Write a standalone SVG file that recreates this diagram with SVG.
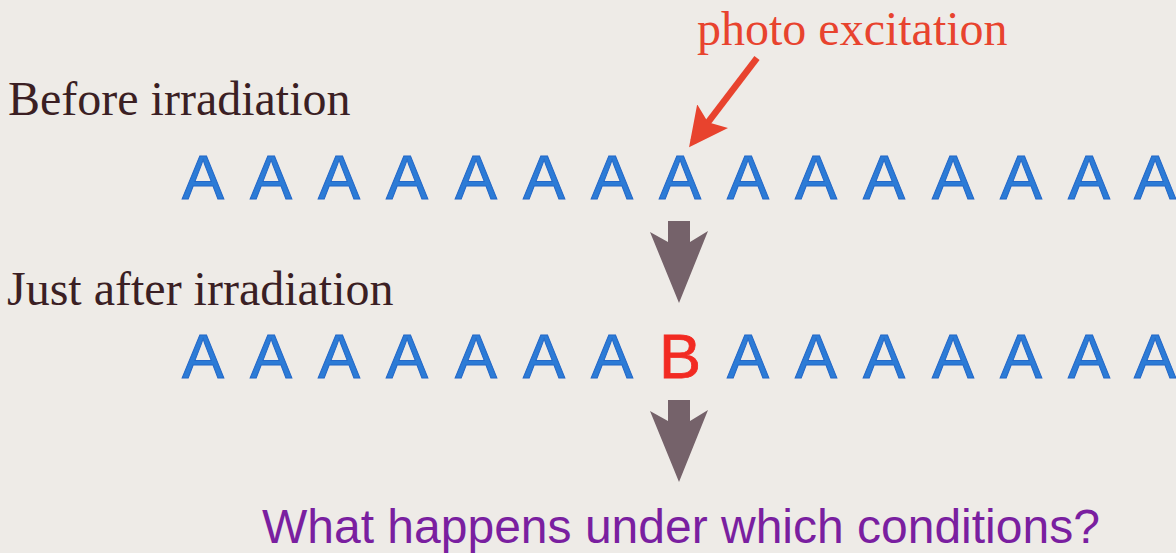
<svg xmlns="http://www.w3.org/2000/svg" width="1176" height="553" viewBox="0 0 1176 553">
  <style>
    .lbl { font-family: "Liberation Serif", "Times New Roman", serif; font-size: 48px; fill: #3b1f24; }
    .red { font-family: "Liberation Serif", "Times New Roman", serif; font-size: 48px; fill: #e8432e; }
    .mol { font-family: "Liberation Sans", Arial, sans-serif; font-size: 63px; fill: #2c7bd6; stroke: #2468c8; stroke-width: 1; text-anchor: middle; }
    .molB { font-family: "Liberation Sans", Arial, sans-serif; font-size: 63px; fill: #f22a22; stroke: #f22a22; stroke-width: 0.8; text-anchor: middle; }
    .q { font-family: "Liberation Sans", Arial, sans-serif; font-size: 48px; fill: #7a1fa0; }
    .blk { fill: #75626a; }
  </style>
  <defs>
    <marker id="redHead" markerWidth="6" markerHeight="6" refX="5" refY="3" orient="auto" markerUnits="strokeWidth">
      <path d="M0,0 L6,3 L0,6 L1.2,3 Z" fill="#e8432e"/>
    </marker>
    <polygon id="blockArrow" points="-11,0 11,0 11,21 29,10 0,82 -29,11 -11,21"/>
  </defs>
  <rect width="1176" height="553" fill="#eeebe7"/>

  <g id="label-before"><text class="lbl" x="8" y="115">Before irradiation</text></g>
  <g id="label-photo"><text class="red" x="697" y="45">photo excitation</text></g>

  <g id="row-before">
    <text class="mol" x="203" y="199">A</text>
    <text class="mol" x="271" y="199">A</text>
    <text class="mol" x="339" y="199">A</text>
    <text class="mol" x="407" y="199">A</text>
    <text class="mol" x="476" y="199">A</text>
    <text class="mol" x="544" y="199">A</text>
    <text class="mol" x="612" y="199">A</text>
    <text class="mol" x="680" y="199">A</text>
    <text class="mol" x="748" y="199">A</text>
    <text class="mol" x="816" y="199">A</text>
    <text class="mol" x="884" y="199">A</text>
    <text class="mol" x="953" y="199">A</text>
    <text class="mol" x="1021" y="199">A</text>
    <text class="mol" x="1089" y="199">A</text>
    <text class="mol" x="1155" y="199">A</text>
  </g>

  <g id="label-after"><text class="lbl" x="7" y="305">Just after irradiation</text></g>

  <g id="row-after">
    <text class="mol" x="203" y="378">A</text>
    <text class="mol" x="271" y="378">A</text>
    <text class="mol" x="339" y="378">A</text>
    <text class="mol" x="407" y="378">A</text>
    <text class="mol" x="476" y="378">A</text>
    <text class="mol" x="544" y="378">A</text>
    <text class="mol" x="612" y="378">A</text>
    <text class="molB" x="680" y="378">B</text>
    <text class="mol" x="748" y="378">A</text>
    <text class="mol" x="816" y="378">A</text>
    <text class="mol" x="884" y="378">A</text>
    <text class="mol" x="953" y="378">A</text>
    <text class="mol" x="1021" y="378">A</text>
    <text class="mol" x="1089" y="378">A</text>
    <text class="mol" x="1155" y="378">A</text>
  </g>

  <g id="label-question"><text class="q" x="262" y="543">What happens under which conditions?</text></g>

  <g id="connectors">
    <line x1="757" y1="58" x2="693" y2="142" stroke="#e8432e" stroke-width="6.5" marker-end="url(#redHead)"/>
    <use href="#blockArrow" class="blk" transform="translate(679,221)"/>
    <use href="#blockArrow" class="blk" transform="translate(679,400)"/>
  </g>
</svg>
